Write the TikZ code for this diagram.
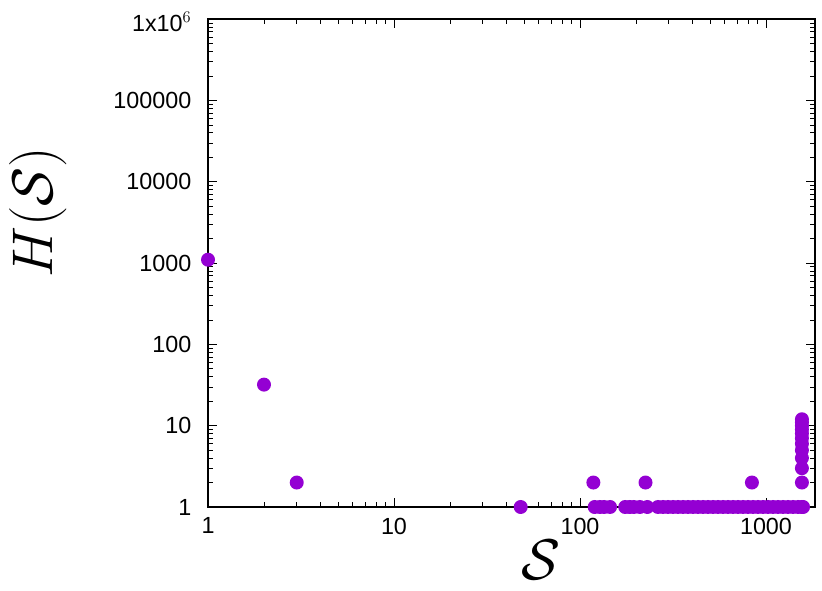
\RequirePackage{fix-cm}
\documentclass[tikz,border=0pt]{standalone}
\usepackage{fontspec}
\setmainfont{Liberation Sans}
\usepackage{amsmath}
\definecolor{gpviolet}{HTML}{9400D3}
\newcommand{\xpos}[1]{208+186*log10(#1)}
\newcommand{\ypos}[1]{507-81.3*log10(#1)}
\begin{document}
\begin{tikzpicture}
[x=0.75pt,y=-0.75pt,
dot/.style={fill=gpviolet,draw=none},
tick/.style={black,line width=0.6pt},
ticklab/.style={font=\fontsize{17.5}{20}\selectfont},
biglab/.style={font=\fontsize{43}{50}\selectfont},
]
\useasboundingbox (0,0) rectangle (822,591);
%%%% frame
\draw[line width=0.9pt] (208,19) rectangle (815,507);
%%%% x ticks
\foreach \d in {0,1,2,3}{
\draw[tick] ({208+186*\d},507) -- ++(0,-9);
\draw[tick] ({208+186*\d},19) -- ++(0,9);
\foreach \m in {2,...,9}{
\pgfmathsetmacro{\xx}{208+186*(\d+log10(\m))}
\ifdim\xx pt<815pt
\draw[tick] (\xx,507) -- ++(0,-5);
\draw[tick] (\xx,19) -- ++(0,5);
\fi
}
}
\node[ticklab,anchor=north] (x1) at (208,513) {1};
\node[ticklab,anchor=north] (x10) at (394,513) {10};
\node[ticklab,anchor=north] (x100) at (580,513) {100};
\node[ticklab,anchor=north] (x1000) at (766,513) {1000};
%%%% y ticks
\foreach \d in {0,...,6}{
\draw[tick] (208,{507-81.3*\d}) -- ++(9,0);
\draw[tick] (815,{507-81.3*\d}) -- ++(-9,0);
}
\foreach \d in {0,...,5}{
\foreach \m in {2,...,9}{
\draw[tick] (208,{507-81.3*(\d+log10(\m))}) -- ++(5,0);
\draw[tick] (815,{507-81.3*(\d+log10(\m))}) -- ++(-5,0);
}
}
\node[ticklab,anchor=east] (y1) at (196,507) {1};
\node[ticklab,anchor=east] (y10) at (196,425.7) {10};
\node[ticklab,anchor=east] (y100) at (196,344.4) {100};
\node[ticklab,anchor=east] (y1000) at (196,263.1) {1000};
\node[ticklab,anchor=east] (y1e4) at (196,181.8) {10000};
\node[ticklab,anchor=east] (y1e5) at (196,100.5) {100000};
\node[ticklab,anchor=east] (y1e6) at (196,22) {1x10$^{6}$};
%%%% axis labels
\node[biglab,rotate=90] (ylab) at (38,212) {$H(\mathcal{S})$};
\node[biglab] (xlab) at (541,560) {$\mathcal{S}$};
%%%% data
\foreach \v/\h in {1/1100,2/32,3/2,118/2,225/2,840/2}
\fill[dot] ({\xpos{\v}},{\ypos{\h}}) circle (7);
\foreach \h in {1,...,12}
\fill[dot] ({\xpos{1560}},{\ypos{\h}}) circle (7);
\foreach \v in {48,120,128,135,145,175,185,195,210,230}
\fill[dot] ({\xpos{\v}},507) circle (7);
\foreach \xx in {658,663,...,807}
\fill[dot] (\xx,507) circle (7);
\end{tikzpicture}
\end{document}
